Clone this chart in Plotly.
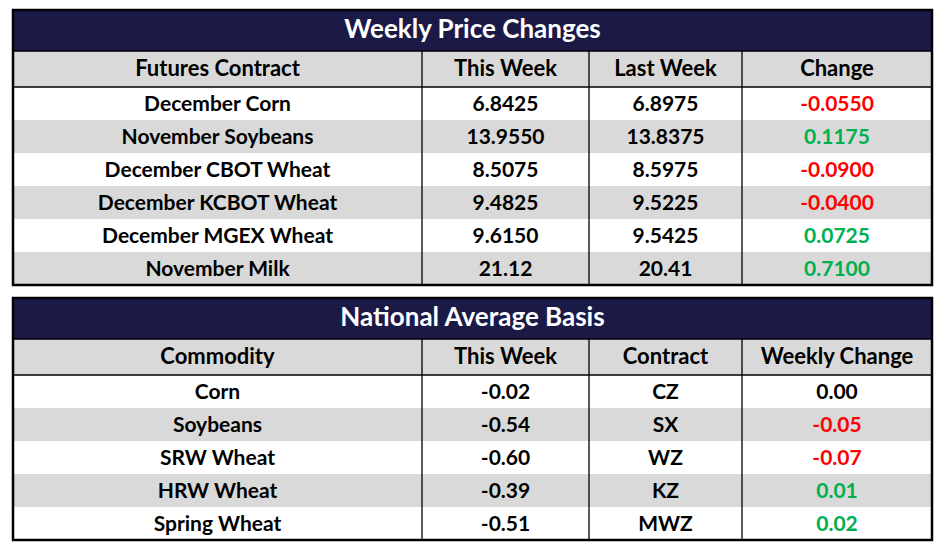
import plotly.graph_objects as go

# ---- data ----
price_title = "Weekly Price Changes"
price_headers = ["Futures Contract", "This Week", "Last Week", "Change"]
contracts = ["December Corn", "November Soybeans", "December CBOT Wheat",
             "December KCBOT Wheat", "December MGEX Wheat", "November Milk"]
this_week = ["6.8425", "13.9550", "8.5075", "9.4825", "9.6150", "21.12"]
last_week = ["6.8975", "13.8375", "8.5975", "9.5225", "9.5425", "20.41"]
price_change = ["-0.0550", "0.1175", "-0.0900", "-0.0400", "0.0725", "0.7100"]

basis_title = "National Average Basis"
basis_headers = ["Commodity", "This Week", "Contract", "Weekly Change"]
commodities = ["Corn", "Soybeans", "SRW Wheat", "HRW Wheat", "Spring Wheat"]
basis_week = ["-0.02", "-0.54", "-0.60", "-0.39", "-0.51"]
basis_contract = ["CZ", "SX", "WZ", "KZ", "MWZ"]
basis_change = ["0.00", "-0.05", "-0.07", "0.01", "0.02"]

# ---- style ----
W, H = 946, 550
NAVY = "#1b1a47"
GRAY = "#d9d9d9"
RED = "#ff0000"
GREEN = "#00b050"
FONT = "Lato"
X0, X1 = 13, 932
COL_W = [409, 167, 153, 190]
TITLE_H, HEAD_H, ROW_H = 41, 36, 33


def px_x(x):
    return x / W


def px_y(y):
    return 1 - y / H


def sign_color(v):
    f = float(v)
    return RED if f < 0 else GREEN if f > 0 else "black"


fig = go.Figure()
shapes = []


def add_block(top, title, headers, columns, changes):
    n = len(columns[0])
    fills = ["white" if i % 2 == 0 else GRAY for i in range(n)]
    head_top = top + TITLE_H
    body_top = head_top + HEAD_H
    bottom = body_top + n * ROW_H

    fig.add_trace(go.Table(
        domain=dict(x=[px_x(X0), px_x(X1)], y=[px_y(head_top + 1), px_y(top)]),
        header=dict(values=[title], height=TITLE_H, fill_color=NAVY, align="center",
                    line=dict(width=0),
                    font=dict(family=FONT, size=26, color="white", weight=700)),
        cells=dict(values=[[]], height=1, line=dict(width=0)),
    ))

    font_colors = [["black"] * n for _ in columns] + [[sign_color(v) for v in changes]]
    fig.add_trace(go.Table(
        domain=dict(x=[px_x(X0), px_x(X1)], y=[px_y(bottom + 2), px_y(head_top)]),
        columnwidth=COL_W,
        header=dict(values=headers, height=HEAD_H, fill_color=GRAY, align="center",
                    line=dict(width=0),
                    font=dict(family=FONT, size=22, color="black", weight=700)),
        cells=dict(values=columns + [changes], height=ROW_H, align="center",
                   fill_color=[fills] * 4, line=dict(width=0),
                   font=dict(family=FONT, size=21, color=font_colors, weight=700)),
    ))

    # grid lines
    xs = [X0]
    for w in COL_W:
        xs.append(xs[-1] + w * (X1 - X0) / sum(COL_W))
    for x in xs[1:-1]:
        shapes.append(dict(type="line", xref="paper", yref="paper",
                           x0=px_x(x), x1=px_x(x), y0=px_y(head_top), y1=px_y(bottom),
                           line=dict(color="black", width=1.3)))
    for y in (head_top, body_top):
        shapes.append(dict(type="line", xref="paper", yref="paper",
                           x0=px_x(X0), x1=px_x(X1), y0=px_y(y), y1=px_y(y),
                           line=dict(color="black", width=1.5)))
    shapes.append(dict(type="rect", xref="paper", yref="paper",
                       x0=px_x(X0), x1=px_x(X1), y0=px_y(bottom), y1=px_y(top),
                       line=dict(color="black", width=2.5)))


add_block(10, price_title, price_headers, [contracts, this_week, last_week], price_change)
add_block(298, basis_title, basis_headers, [commodities, basis_week, basis_contract], basis_change)

fig.update_layout(width=W, height=H, margin=dict(l=0, r=0, t=0, b=0),
                  paper_bgcolor="white", shapes=shapes)
fig.write_html("out.html", config={"displayModeBar": False},
               post_script="document.body.style.margin = '0';")
